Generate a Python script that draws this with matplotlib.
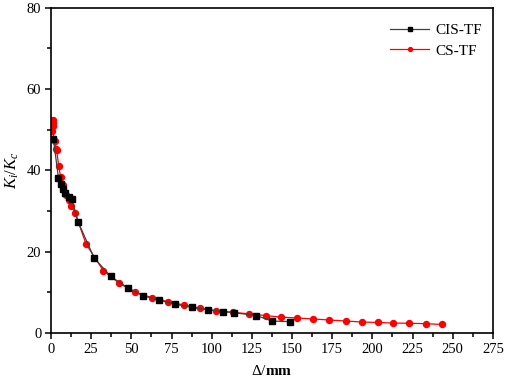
import matplotlib
matplotlib.use("Agg")
import matplotlib.pyplot as plt
from matplotlib.ticker import MultipleLocator

plt.rcParams['font.family'] = ['Liberation Serif', 'DejaVu Serif']
plt.rcParams['mathtext.fontset'] = 'custom'
plt.rcParams['mathtext.rm'] = 'Liberation Serif'
plt.rcParams['mathtext.it'] = 'Liberation Serif:italic'
plt.rcParams['mathtext.bf'] = 'Liberation Serif:bold'

cis_x = [1.5, 4.6, 6.0, 7.3, 8.7, 11.4, 12.9, 17.0, 26.8, 37.2, 48.2, 57.2, 67.0,
         77.3, 87.7, 97.5, 107.3, 113.7, 127.8, 137.6, 149.0]
cis_y = [47.7, 38.2, 36.7, 35.4, 34.5, 33.4, 33.0, 27.2, 18.5, 13.9, 11.0, 9.2, 8.1,
         7.1, 6.3, 5.7, 5.25, 5.0, 4.3, 2.95, 2.8]

cs_x = [1.0, 1.4, 1.0, 0.6, 2.7, 3.1, 3.5, 4.8, 6.0, 7.7, 9.4, 11.4, 12.7, 15.0, 21.8,
        32.6, 42.6, 52.4, 62.8, 72.8, 82.5, 92.9, 102.7, 113.3, 123.5, 133.5, 143.2,
        153.2, 163.2, 173.3, 183.7, 193.7, 203.5, 213.0, 222.8, 233.2, 243.4]
cs_y = [52.3, 51.6, 50.8, 49.8, 47.1, 45.2, 44.9, 41.1, 38.3, 36.5, 34.0, 32.6, 31.3,
        29.5, 21.9, 15.3, 12.2, 10.0, 8.7, 7.7, 6.9, 6.1, 5.5, 5.1, 4.7, 4.3, 3.9,
        3.7, 3.45, 3.2, 2.95, 2.7, 2.6, 2.45, 2.4, 2.3, 2.1]

fig = plt.figure(figsize=(5.05, 3.85), dpi=100)
ax = fig.add_axes([0.101, 0.135, 0.875, 0.845])

ax.plot(cis_x, cis_y, color='#404040', lw=0.9, marker='s', ms=3.8,
        mfc='black', mec='black', label='CIS-TF', zorder=3)
ax.plot(cs_x, cs_y, color='red', lw=0.9, marker='o', ms=4.3,
        mfc='red', mec='red', label='CS-TF', zorder=2)

ax.set_xlim(0, 275)
ax.set_ylim(0, 80)
ax.xaxis.set_major_locator(MultipleLocator(25))
ax.xaxis.set_minor_locator(MultipleLocator(12.5))
ax.yaxis.set_major_locator(MultipleLocator(20))
ax.yaxis.set_minor_locator(MultipleLocator(10))
ax.tick_params(which='major', direction='out', length=4.5, width=1.1, labelsize=10.5,
               top=False, right=False, pad=2.5)
ax.tick_params(which='minor', direction='out', length=3, width=1.1, top=False, right=False)
for s in ax.spines.values():
    s.set_linewidth(1.2)

ax.set_xlabel(r'$\mathit{\Delta}$/$\mathbf{mm}$', fontsize=11, labelpad=6)
ax.set_ylabel(r'$K_i/K_c$', fontsize=12, labelpad=4)

leg = ax.legend(loc='upper right', frameon=False, fontsize=11, handlelength=2.6,
                markerscale=0.65, borderaxespad=0.3, handletextpad=0.4, labelspacing=0.45,
                bbox_to_anchor=(1.0, 0.985))

fig.savefig('out.png', dpi=100)
